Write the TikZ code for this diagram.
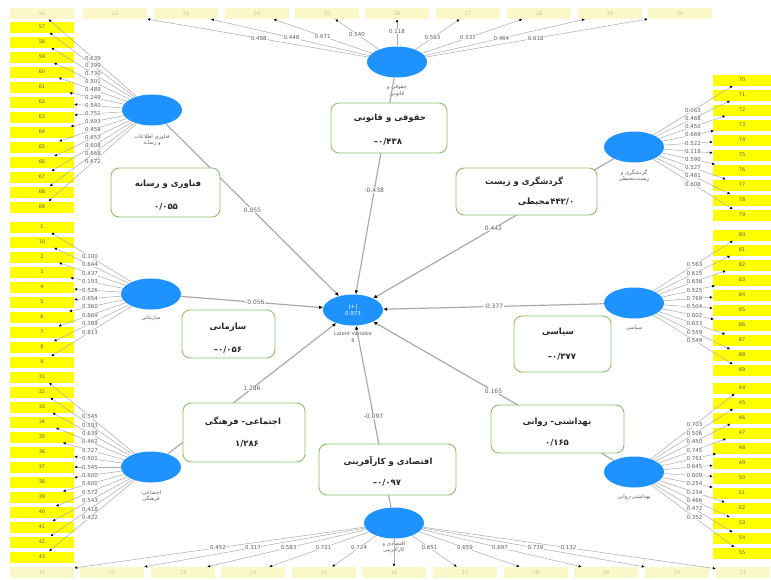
\documentclass[tikz,border=0pt]{standalone}
\usepackage{fontspec}
\setmainfont{DejaVu Sans}
\newfontfamily\fa[Script=Arabic]{DejaVu Sans}
\newfontfamily\fanum{DejaVu Sans}
\TeXXeTstate=1
\usetikzlibrary{arrows.meta,shapes.geometric,calc}
\definecolor{lvblue}{RGB}{30,146,255}
\definecolor{indy}{RGB}{255,255,0}
\definecolor{fady}{RGB}{250,247,200}
\definecolor{fadt}{RGB}{195,195,160}
\definecolor{grn}{RGB}{140,192,105}
\definecolor{lnc}{RGB}{170,170,170}
\definecolor{lbl}{RGB}{95,95,95}
\tikzset{
  lv/.style={ellipse, fill=lvblue, draw=none, minimum width=60pt, minimum height=31pt, inner sep=0pt},
  ind/.style={rectangle, fill=indy, minimum width=64pt, minimum height=11pt, inner sep=0pt, font=\fontsize{5}{5}\selectfont, text=lbl},
  indr/.style={ind, minimum width=58pt},
  fade/.style={ind, fill=fady, text=fadt},
  res/.style={rectangle, rounded corners=8pt, draw=grn, line width=0.9pt, fill=white, inner sep=0pt},
  rtxt/.style={font=\fa\bfseries\fontsize{8.5}{9}\selectfont, text=black!85, inner sep=0pt},
  ntxt/.style={font=\fanum\bfseries\fontsize{8.5}{9}\selectfont, text=black!85, inner sep=0pt},
  lvname/.style={font=\fa\fontsize{5.3}{6.3}\selectfont, text=lbl, align=center, inner sep=0pt},
  load/.style={draw=lnc, line width=0.5pt, -{Latex[length=3pt,width=2.6pt,color=black]}},
  pathc/.style={draw=lnc, line width=1.2pt, -{Latex[length=4pt,width=3.6pt,color=black]}},
  ll/.style={font=\fontsize{5.5}{6}\selectfont, text=lbl, fill=white, inner sep=0.4pt},
  pl/.style={font=\fontsize{6}{6}\selectfont, text=lbl, fill=white, inner sep=0.6pt}
}
\begin{document}
\begin{tikzpicture}[x=1pt,y=-1pt]
\fill[white] (0,0) rectangle (771,579);
\useasboundingbox (0,0) rectangle (771,579);

% ---------- indicator boxes ----------
\node[fade] (b56) at (42,13.5) {56};
\foreach \n/\x in {22/115,23/186,24/257,25/327,26/397,27/468,28/539,29/610,30/680}
  \node[fade] (b\n) at (\x,13.5) {\n};
\foreach \n [count=\i from 0] in {57,...,69}
  \node[ind] (b\n) at (42,{27+15*\i}) {\n};
\foreach \n [count=\i from 0] in {1,10,2,3,4,5,6,7,8,9}
  \node[ind] (b\n) at (42,{227+15*\i}) {\n};
\foreach \n [count=\i from 0] in {31,...,43}
  \node[ind] (b\n) at (42,{377+15*\i}) {\n};
\foreach \n/\x in {11/42,12/112,13/183,14/253,15/324,16/394,17/465,18/536,19/606,20/677}
  \node[fade] (b\n) at (\x,572.5) {\n};
\node[fade, minimum width=54pt] (b21) at (743,572.5) {21};
\foreach \n [count=\i from 0] in {70,...,79}
  \node[indr] (b\n) at (742,{80+15*\i}) {\n};
\foreach \n [count=\i from 0] in {80,...,89}
  \node[indr] (b\n) at (742,{235+15*\i}) {\n};
\foreach \n [count=\i from 0] in {44,...,55}
  \node[indr] (b\n) at (742,{388+15*\i}) {\n};

% ---------- latent variables ----------
\node[lv] (L1) at (152,110) {};
\node[lv] (L2) at (397,62) {};
\node[lv] (L3) at (634,147) {};
\node[lv] (L4) at (151,294) {};
\node[lv, text=white, font=\fontsize{5.5}{7}\selectfont, align=center] (L5) at (353,310) {[+]\\0.973};
\node[lv] (L6) at (634,303) {};
\node[lv] (L7) at (151,467) {};
\node[lv] (L8) at (394,523) {};
\node[lv] (L9) at (634,472) {};

\node[lvname] (n1) at (152,140) {\beginR فناوری اطلاعات\endR\\\beginR و رسانه\endR};
\node[lvname] (n2) at (397,91) {\beginR حقوقی و\endR\\\beginR قانونی\endR};
\node[lvname] (n3) at (634,176) {\beginR گردشگری و\endR\\\beginR زیست‌محیطی\endR};
\node[lvname] (n4) at (151,318) {\beginR سازمانی\endR};
\node[lvname, font=\fontsize{5}{6.5}\selectfont] (n5) at (353,337) {Latent Variable\\8};
\node[lvname] (n6) at (634,328) {\beginR سیاسی\endR};
\node[lvname] (n7) at (151,496) {\beginR اجتماعی-\endR\\\beginR فرهنگی\endR};
\node[lvname] (n8) at (394,547) {\beginR اقتصادی و\endR\\\beginR کارآفرینی\endR};
\node[lvname] (n9) at (634,497) {\beginR بهداشتی-روانی\endR};

% ---------- loadings ----------
\foreach \n in {56,...,69}
  {\draw[load] (L1) -- (b\n);}
\foreach \n in {1,10,2,3,4,5,6,7,8,9}
  {\draw[load] (L4) -- (b\n);}
\foreach \n in {31,...,43}
  {\draw[load] (L7) -- (b\n);}
\foreach \n in {22,...,30}
  {\draw[load] (L2) -- (b\n);}
\foreach \n in {70,...,79}
  {\draw[load] (L3) -- (b\n);}
\foreach \n in {80,...,89}
  {\draw[load] (L6) -- (b\n);}
\foreach \n in {44,...,55}
  {\draw[load] (L9) -- (b\n);}
\foreach \n in {11,...,21}
  {\draw[load] (L8) -- (b\n);}

% loading labels
\foreach \n/\v in {56/0.639,57/0.399,58/0.730,59/0.501,60/0.489,61/0.249,62/0.540,63/0.751,64/0.693,65/0.458,66/0.653,67/0.608,68/0.668,69/0.672}
  {\node[ll] at ($(L1.center)!0.536!(b\n.center)$) {\v};}
\foreach \n/\v in {1/0.100,10/0.644,2/0.437,3/0.193,4/0.526,5/0.654,6/0.360,7/0.669,8/0.389,9/0.813}
  {\node[ll] at ($(L4.center)!0.56!(b\n.center)$) {\v};}
\foreach \n/\v in {31/0.545,32/0.593,33/0.639,34/0.462,35/0.727,36/0.501,37/0.545,38/0.600,39/0.600,40/0.572,41/0.543,42/0.418,43/0.422}
  {\node[ll] at ($(L7.center)!0.56!(b\n.center)$) {\v};}
\foreach \n/\v/\t in {22/0.498/0.49,23/0.448/0.5,24/0.671/0.53,25/0.540/0.57,26/0.118/0.62,27/0.563/0.5,28/0.537/0.5,29/0.464/0.49,30/0.618/0.49}
  {\node[ll] at ($(L2.center)!\t!(b\n.center)$) {\v};}
\foreach \n/\v in {70/0.063,71/0.468,72/0.450,73/0.669,74/0.522,75/0.118,76/0.590,77/0.527,78/0.481,79/0.608}
  {\node[ll] at ($(L3.center)!0.546!(b\n.center)$) {\v};}
\foreach \n/\v in {80/0.563,81/0.615,82/0.636,83/0.525,84/0.769,85/0.504,86/0.602,87/0.633,88/0.559,89/0.549}
  {\node[ll] at ($(L6.center)!0.56!(b\n.center)$) {\v};}
\foreach \n/\v in {44/0.703,45/0.506,46/0.450,47/0.745,48/0.761,49/0.645,50/0.609,51/0.254,52/0.234,53/0.466,54/0.472,55/0.352}
  {\node[ll] at ($(L9.center)!0.56!(b\n.center)$) {\v};}
\foreach \n/\v in {11/0.452,12/0.317,13/0.583,14/0.721,15/0.724,17/0.651,18/0.659,19/0.697,20/0.739,21/0.132}
  {\node[ll] at ($(L8.center)!0.5!(b\n.center)$) {\v};}

% ---------- structural paths ----------
\draw[pathc] (L1) -- node[pl]{0.055} (L5);
\draw[pathc] (L2) -- node[pl, pos=0.52]{-0.438} (L5);
\draw[pathc] (L3) -- node[pl]{0.442} (L5);
\draw[pathc] (L4) -- node[pl, pos=0.52]{-0.056} (L5);
\draw[pathc] (L6) -- node[pl]{-0.377} (L5);
\draw[pathc] (L7) -- node[pl]{1.286} (L5);
\draw[pathc] (L8) -- node[pl]{-0.097} (L5);
\draw[pathc] (L9) -- node[pl]{0.165} (L5);

% ---------- result boxes ----------
\node[res, minimum width=109pt, minimum height=49pt] (g1) at (165.5,192.5) {};
\node[rtxt] (t1a) at (168,184) {\beginR فناوری و رسانه\endR};
\node[ntxt] (t1b) at (166,207) {۰/۰۵۵};

\node[res, minimum width=116pt, minimum height=50pt] (g2) at (389,128) {};
\node[rtxt] (t2a) at (390,118) {\beginR حقوقی و قانونی\endR};
\node[ntxt] (t2b) at (388,142) {–۰/۴۳۸};

\node[res, minimum width=141pt, minimum height=47pt] (g3) at (526.5,191.5) {};
\node[rtxt] (t3a) at (524,182) {\beginR گردشگری و زیست\endR};
\node[rtxt, anchor=west] (t3b) at (518,202) {\beginR محیطی\endR};
\node[ntxt, anchor=west] (t3c) at (t3b.east) {۴۴۲/۰};

\node[res, minimum width=93pt, minimum height=48pt] (g4) at (228.5,334) {};
\node[rtxt] (t4a) at (228,327) {\beginR سازمانی\endR};
\node[ntxt] (t4b) at (228,350) {–۰/۰۵۶};

\node[res, minimum width=97pt, minimum height=56pt] (g5) at (562.5,344) {};
\node[rtxt] (t5a) at (558,332) {\beginR سیاسی\endR};
\node[ntxt] (t5b) at (562,357) {–۰/۳۷۷};

\node[res, minimum width=122pt, minimum height=59pt] (g6) at (244,432.5) {};
\node[rtxt] (t6a) at (243,422) {\beginR اجتماعی- فرهنگی\endR};
\node[ntxt] (t6b) at (247,444) {۱/۲۸۶};

\node[res, minimum width=137pt, minimum height=51pt] (g7) at (387.5,469.5) {};
\node[rtxt] (t7a) at (388,461) {\beginR اقتصادی و کارآفرینی\endR};
\node[ntxt] (t7b) at (387,483) {–۰/۰۹۷};

\node[res, minimum width=133pt, minimum height=48pt] (g8) at (557.5,429) {};
\node[rtxt] (t8a) at (557,422) {\beginR بهداشتی- روانی\endR};
\node[ntxt] (t8b) at (557,443) {۰/۱۶۵};
\end{tikzpicture}
\end{document}
